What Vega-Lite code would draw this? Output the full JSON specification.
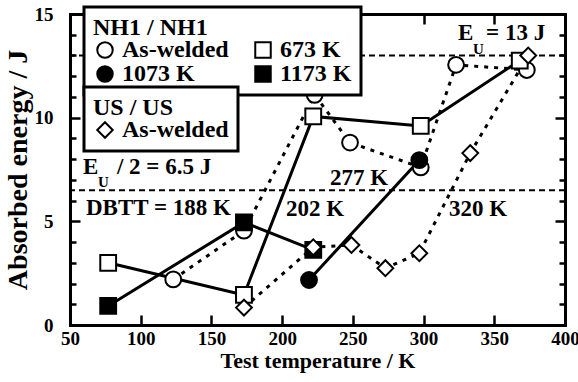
{
  "$schema": "https://vega.github.io/schema/vega-lite/v6.json",
  "width": 495,
  "height": 311,
  "autosize": "none",
  "padding": {"left": 70, "top": 14, "right": 13, "bottom": 57},
  "background": "white",
  "config": {
    "view": {"stroke": null},
    "font": "Liberation Serif",
    "legend": {"strokeWidth": 3},
    "axis": {
      "domainColor": "black", "domainWidth": 3, "domainCap": "square",
      "tickColor": "black", "tickWidth": 2.5, "grid": false,
      "labelFont": "Liberation Serif", "labelFontSize": 19, "labelFontWeight": "bold", "labelColor": "black",
      "labelOverlap": false, "labelFlush": false,
      "titleFont": "Liberation Serif", "titleFontSize": 22, "titleFontWeight": "bold", "titleColor": "black"
    }
  },
  "datasets": {
    "pts": [
      {"group": "NH1", "series": "As-welded", "T": 123, "E": 2.2},
      {"group": "NH1", "series": "As-welded", "T": 173, "E": 4.55},
      {"group": "NH1", "series": "As-welded", "T": 223, "E": 11.1},
      {"group": "NH1", "series": "As-welded", "T": 248, "E": 8.8},
      {"group": "NH1", "series": "As-welded", "T": 298, "E": 7.6},
      {"group": "NH1", "series": "As-welded", "T": 323, "E": 12.55},
      {"group": "NH1", "series": "As-welded", "T": 373, "E": 12.3},
      {"group": "NH1", "series": "1073 K", "T": 219, "E": 2.17},
      {"group": "NH1", "series": "1073 K", "T": 297, "E": 7.95},
      {"group": "NH1", "series": "673 K", "T": 77, "E": 3.0},
      {"group": "NH1", "series": "673 K", "T": 173, "E": 1.45},
      {"group": "NH1", "series": "673 K", "T": 222, "E": 10.06},
      {"group": "NH1", "series": "673 K", "T": 298, "E": 9.6},
      {"group": "NH1", "series": "673 K", "T": 368, "E": 12.75},
      {"group": "NH1", "series": "1173 K", "T": 77, "E": 0.92},
      {"group": "NH1", "series": "1173 K", "T": 173, "E": 4.95},
      {"group": "NH1", "series": "1173 K", "T": 222, "E": 3.62},
      {"group": "US", "series": "As-welded", "T": 173, "E": 0.84},
      {"group": "US", "series": "As-welded", "T": 222, "E": 3.75},
      {"group": "US", "series": "As-welded", "T": 249, "E": 3.86},
      {"group": "US", "series": "As-welded", "T": 273, "E": 2.74},
      {"group": "US", "series": "As-welded", "T": 297, "E": 3.46},
      {"group": "US", "series": "As-welded", "T": 333, "E": 8.29},
      {"group": "US", "series": "As-welded", "T": 374, "E": 13.0}
    ],
    "refs": [{"E": 13}, {"E": 6.5}],
    "notes": [
      {"T": 324.4, "E": 14.1, "txt": "E"},
      {"T": 344.2, "E": 14.1, "txt": "= 13 J"},
      {"T": 59.2, "E": 7.63, "txt": "E"},
      {"T": 83.2, "E": 7.63, "txt": "/ 2 = 6.5 J"},
      {"T": 61.3, "E": 5.65, "txt": "DBTT = 188 K"},
      {"T": 202.8, "E": 5.6, "txt": "202 K"},
      {"T": 233.9, "E": 7.1, "txt": "277 K"},
      {"T": 318, "E": 5.6, "txt": "320 K"}
    ],
    "subs": [
      {"T": 335, "E": 13.3, "txt": "U"},
      {"T": 69.8, "E": 6.9, "txt": "U"}
    ]
  },
  "layer": [
    {
      "data": {"name": "refs"},
      "mark": {"type": "rule", "color": "black", "strokeWidth": 2, "strokeDash": [6, 4]},
      "encoding": {
        "y": {"field": "E", "type": "quantitative", "scale": {"domain": [0, 15], "nice": false, "zero": false}, "axis": null}
      }
    },
    {
      "data": {"name": "pts"},
      "transform": [{"filter": "datum.series === 'As-welded'"}],
      "mark": {"type": "line", "color": "black", "strokeWidth": 3, "strokeDash": [4, 6], "strokeCap": "butt"},
      "encoding": {
        "x": {"field": "T", "type": "quantitative", "scale": {"domain": [50, 400], "nice": false, "zero": false},
          "axis": {"orient": "bottom", "values": [50, 100, 150, 200, 250, 300, 350, 400], "tickSize": -10, "labelPadding": 14, "title": "Test temperature / K", "titlePadding": 2}},
        "y": {"field": "E", "type": "quantitative", "scale": {"domain": [0, 15], "nice": false, "zero": false},
          "axis": {"orient": "left", "values": [0, 1, 2, 3, 4, 5, 6, 7, 8, 9, 10, 11, 12, 13, 14, 15],
            "labelExpr": "datum.value % 5 === 0 ? datum.label : ''",
            "tickSize": {"condition": {"test": "datum.value % 5 === 0", "value": -10}, "value": -6},
            "labelPadding": 27, "title": "Absorbed energy / J", "titleFontSize": 28, "titlePadding": 2}},
        "detail": {"field": "group", "type": "nominal"}
      }
    },
    {
      "data": {"name": "pts"},
      "transform": [{"filter": "datum.series !== 'As-welded'"}],
      "mark": {"type": "line", "color": "black", "strokeWidth": 3},
      "encoding": {
        "x": {"field": "T", "type": "quantitative", "scale": {"domain": [50, 400], "nice": false, "zero": false},
          "axis": {"orient": "top", "values": [50, 100, 150, 200, 250, 300, 350, 400], "tickSize": -10, "labels": false, "title": null}},
        "y": {"field": "E", "type": "quantitative", "scale": {"domain": [0, 15], "nice": false, "zero": false},
          "axis": {"orient": "right", "values": [0, 1, 2, 3, 4, 5, 6, 7, 8, 9, 10, 11, 12, 13, 14, 15],
            "tickSize": {"condition": {"test": "datum.value % 5 === 0", "value": -10}, "value": -6},
            "labels": false, "title": null}},
        "detail": {"field": "series", "type": "nominal"}
      }
    },
    {
      "data": {"name": "pts"},
      "transform": [{"filter": "datum.group === 'NH1'"}],
      "mark": {"type": "point", "filled": true, "stroke": "black", "strokeWidth": 2, "size": 250, "opacity": 1},
      "encoding": {
        "x": {"field": "T", "type": "quantitative", "scale": {"domain": [50, 400], "nice": false, "zero": false}, "axis": null},
        "y": {"field": "E", "type": "quantitative", "scale": {"domain": [0, 15], "nice": false, "zero": false}, "axis": null},
        "shape": {"field": "series", "type": "nominal",
          "scale": {"domain": ["As-welded", "1073 K", "673 K", "1173 K"], "range": ["circle", "circle", "square", "square"]},
          "legend": {"title": "NH1 / NH1", "orient": "none", "legendX": 14, "legendY": -7, "columns": 2,
            "strokeColor": "black", "fillColor": "white", "padding": 9,
            "titleFont": "Liberation Serif", "titleFontSize": 24, "titleFontWeight": "bold", "titleColor": "black", "titlePadding": -2,
            "labelFont": "Liberation Serif", "labelFontSize": 24, "labelFontWeight": "bold", "labelColor": "black",
            "symbolSize": 240, "symbolStrokeWidth": 2, "symbolStrokeColor": "black", "symbolOpacity": 1,
            "columnPadding": 22, "rowPadding": -4, "labelOffset": 5,
            "encode": {"legend": {"strokeWidth": {"value": 3}}}}},
        "fill": {"field": "series", "type": "nominal",
          "scale": {"domain": ["As-welded", "1073 K", "673 K", "1173 K"], "range": ["white", "black", "white", "black"]},
          "legend": {"title": "NH1 / NH1", "orient": "none", "legendX": 14, "legendY": -7, "columns": 2,
            "strokeColor": "black", "fillColor": "white", "padding": 9,
            "titleFont": "Liberation Serif", "titleFontSize": 24, "titleFontWeight": "bold", "titleColor": "black", "titlePadding": -2,
            "labelFont": "Liberation Serif", "labelFontSize": 24, "labelFontWeight": "bold", "labelColor": "black",
            "symbolSize": 240, "symbolStrokeWidth": 2, "symbolStrokeColor": "black", "symbolOpacity": 1,
            "columnPadding": 22, "rowPadding": -4, "labelOffset": 5,
            "encode": {"legend": {"strokeWidth": {"value": 3}}}}}
      }
    },
    {
      "data": {"name": "pts"},
      "transform": [{"filter": "datum.group === 'US'"}],
      "mark": {"type": "point", "filled": true, "stroke": "black", "strokeWidth": 2, "size": 250, "opacity": 1},
      "encoding": {
        "x": {"field": "T", "type": "quantitative", "scale": {"domain": [50, 400], "nice": false, "zero": false}, "axis": null},
        "y": {"field": "E", "type": "quantitative", "scale": {"domain": [0, 15], "nice": false, "zero": false}, "axis": null},
        "shape": {"field": "series", "type": "nominal",
          "scale": {"domain": ["As-welded"], "range": ["diamond"]},
          "legend": {"title": "US / US", "orient": "none", "legendX": 14, "legendY": 73,
            "strokeColor": "black", "fillColor": "white", "padding": 9,
            "titleFont": "Liberation Serif", "titleFontSize": 24, "titleFontWeight": "bold", "titleColor": "black", "titlePadding": -2,
            "labelFont": "Liberation Serif", "labelFontSize": 24, "labelFontWeight": "bold", "labelColor": "black",
            "symbolSize": 240, "symbolStrokeWidth": 2, "symbolStrokeColor": "black", "symbolOpacity": 1,
            "labelOffset": 5,
            "encode": {"legend": {"strokeWidth": {"value": 3}}}}},
        "fill": {"field": "series", "type": "nominal",
          "scale": {"domain": ["As-welded"], "range": ["white"]},
          "legend": {"title": "US / US", "orient": "none", "legendX": 14, "legendY": 73,
            "strokeColor": "black", "fillColor": "white", "padding": 9,
            "titleFont": "Liberation Serif", "titleFontSize": 24, "titleFontWeight": "bold", "titleColor": "black", "titlePadding": -2,
            "labelFont": "Liberation Serif", "labelFontSize": 24, "labelFontWeight": "bold", "labelColor": "black",
            "symbolSize": 240, "symbolStrokeWidth": 2, "symbolStrokeColor": "black", "symbolOpacity": 1,
            "labelOffset": 5,
            "encode": {"legend": {"strokeWidth": {"value": 3}}}}}
      }
    },
    {
      "data": {"name": "notes"},
      "mark": {"type": "text", "align": "left", "baseline": "middle", "font": "Liberation Serif", "fontSize": 23, "fontWeight": "bold", "color": "black"},
      "encoding": {
        "x": {"field": "T", "type": "quantitative", "scale": {"domain": [50, 400], "nice": false, "zero": false}, "axis": null},
        "y": {"field": "E", "type": "quantitative", "scale": {"domain": [0, 15], "nice": false, "zero": false}, "axis": null},
        "text": {"field": "txt"}
      }
    },
    {
      "data": {"name": "subs"},
      "mark": {"type": "text", "align": "left", "baseline": "middle", "font": "Liberation Serif", "fontSize": 15, "fontWeight": "bold", "color": "black"},
      "encoding": {
        "x": {"field": "T", "type": "quantitative", "scale": {"domain": [50, 400], "nice": false, "zero": false}, "axis": null},
        "y": {"field": "E", "type": "quantitative", "scale": {"domain": [0, 15], "nice": false, "zero": false}, "axis": null},
        "text": {"field": "txt"}
      }
    }
  ],
  "resolve": {
    "axis": {"x": "independent", "y": "independent"},
    "scale": {"shape": "independent", "fill": "independent"},
    "legend": {"shape": "independent", "fill": "independent"}
  }
}
